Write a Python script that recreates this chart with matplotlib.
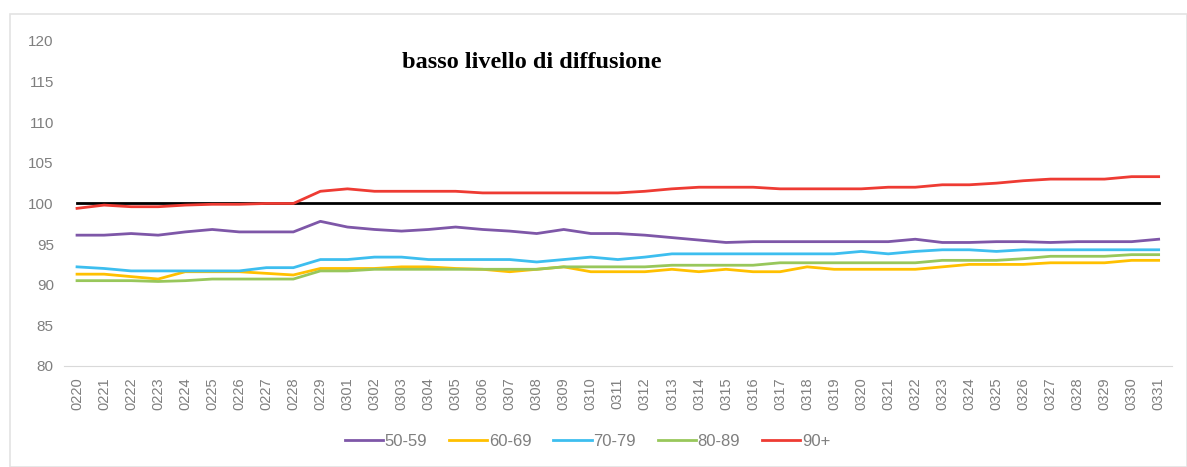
import matplotlib
matplotlib.use("Agg")
import matplotlib.pyplot as plt
from matplotlib.patches import Rectangle

# Dates (MMDD)
dates = ['0220', '0221', '0222', '0223', '0224', '0225', '0226', '0227', '0228', '0229',
         '0301', '0302', '0303', '0304', '0305', '0306', '0307', '0308', '0309', '0310',
         '0311', '0312', '0313', '0314', '0315', '0316', '0317', '0318', '0319', '0320',
         '0321', '0322', '0323', '0324', '0325', '0326', '0327', '0328', '0329', '0330',
         '0331']

age_50_59 = [96.1, 96.1, 96.3, 96.1, 96.5, 96.8, 96.5, 96.5, 96.5, 97.8,
             97.1, 96.8, 96.6, 96.8, 97.1, 96.8, 96.6, 96.3, 96.8, 96.3,
             96.3, 96.1, 95.8, 95.5, 95.2, 95.3, 95.3, 95.3, 95.3, 95.3,
             95.3, 95.6, 95.2, 95.2, 95.3, 95.3, 95.2, 95.3, 95.3, 95.3,
             95.6]
age_60_69 = [91.3, 91.3, 91.0, 90.7, 91.6, 91.6, 91.6, 91.4, 91.2, 92.0,
             92.0, 92.0, 92.2, 92.2, 92.0, 91.9, 91.6, 91.9, 92.2, 91.6,
             91.6, 91.6, 91.9, 91.6, 91.9, 91.6, 91.6, 92.2, 91.9, 91.9,
             91.9, 91.9, 92.2, 92.5, 92.5, 92.5, 92.7, 92.7, 92.7, 93.0,
             93.0]
age_70_79 = [92.2, 92.0, 91.7, 91.7, 91.7, 91.7, 91.7, 92.1, 92.1, 93.1,
             93.1, 93.4, 93.4, 93.1, 93.1, 93.1, 93.1, 92.8, 93.1, 93.4,
             93.1, 93.4, 93.8, 93.8, 93.8, 93.8, 93.8, 93.8, 93.8, 94.1,
             93.8, 94.1, 94.3, 94.3, 94.1, 94.3, 94.3, 94.3, 94.3, 94.3,
             94.3]
age_80_89 = [90.5, 90.5, 90.5, 90.4, 90.5, 90.7, 90.7, 90.7, 90.7, 91.7,
             91.7, 91.9, 91.9, 91.9, 91.9, 91.9, 91.9, 91.9, 92.2, 92.2,
             92.2, 92.2, 92.4, 92.4, 92.4, 92.4, 92.7, 92.7, 92.7, 92.7,
             92.7, 92.7, 93.0, 93.0, 93.0, 93.2, 93.5, 93.5, 93.5, 93.7,
             93.7]
age_90_plus = [99.4, 99.8, 99.6, 99.6, 99.8, 99.9, 99.9, 100.0, 100.0, 101.5,
               101.8, 101.5, 101.5, 101.5, 101.5, 101.3, 101.3, 101.3, 101.3, 101.3,
               101.3, 101.5, 101.8, 102.0, 102.0, 102.0, 101.8, 101.8, 101.8, 101.8,
               102.0, 102.0, 102.3, 102.3, 102.5, 102.8, 103.0, 103.0, 103.0, 103.3,
               103.3]

baseline = 100
series = [
    ('50-59', age_50_59, '#7E57A8'),
    ('60-69', age_60_69, '#FFC000'),
    ('70-79', age_70_79, '#3DBEEF'),
    ('80-89', age_80_89, '#98C75B'),
    ('90+', age_90_plus, '#EE3B33'),
]

plt.rcParams['font.family'] = ['Liberation Sans', 'DejaVu Sans']

fig = plt.figure(figsize=(11.87, 4.67), dpi=100)
ax = fig.add_axes([0.0535, 0.2163, 0.934, 0.696])

x = list(range(len(dates)))
ax.plot(x, [baseline] * len(dates), color='black', linewidth=2, zorder=2)
for label, vals, color in series:
    ax.plot(x, vals, color=color, linewidth=2, label=label, zorder=3)

ax.set_xlim(-0.5, len(dates) - 0.5)
ax.set_ylim(80, 120)
ax.set_yticks(range(80, 121, 5))
ax.set_xticks(x)
ax.set_xticklabels(dates, rotation=90)
ax.tick_params(axis='both', length=0, colors='#7F7F7F')
ax.tick_params(axis='y', labelsize=11, pad=7)
ax.tick_params(axis='x', labelsize=10.5, pad=8)
for side in ['top', 'right', 'left']:
    ax.spines[side].set_visible(False)
ax.spines['bottom'].set_color('#D9D9D9')

fig.text(0.448, 0.867, 'basso livello di diffusione', ha='center', va='center',
         fontsize=17.5, fontweight='bold', family='Liberation Serif')

leg = fig.legend(loc='center', bbox_to_anchor=(0.495, 0.055), ncol=5, frameon=False,
                 fontsize=12, handlelength=2.3, handletextpad=0.1, columnspacing=1.3)
for t in leg.get_texts():
    t.set_color('#7F7F7F')

# light frame around the chart area
fig.patches.append(Rectangle((10 / 1187, 0), 1 - 10 / 1187, 1 - 14 / 467,
                             transform=fig.transFigure, fill=False,
                             edgecolor='#E3E3E3', linewidth=1.2))

plt.savefig('out.png', dpi=100)
plt.close()
